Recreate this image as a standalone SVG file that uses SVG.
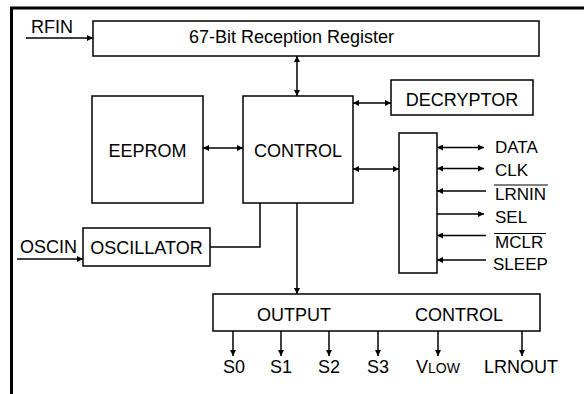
<svg xmlns="http://www.w3.org/2000/svg" width="584" height="394" viewBox="0 0 584 394">
<defs>
<style>
.box{fill:#fff;stroke:#000;stroke-width:1.5}
.ln{fill:none;stroke:#000;stroke-width:1.5}
.t{font-family:"Liberation Sans",Arial,sans-serif;font-size:18px;fill:#000}
.p{font-size:17px}
.c{text-anchor:middle}
</style>
<marker id="ah" viewBox="0 0 10 10" refX="10" refY="5" markerWidth="8" markerHeight="6" markerUnits="userSpaceOnUse" orient="auto-start-reverse">
<path d="M0,0 L10,5 L0,10 z" fill="#000"/>
</marker>
</defs>
<rect width="584" height="394" fill="#fff"/>
<path d="M11.5,394 V8 H584" fill="none" stroke="#000" stroke-width="3"/>

<g id="connectors">
<line class="ln" x1="26" y1="38" x2="93" y2="38" marker-end="url(#ah)"/>
<line class="ln" x1="297" y1="56" x2="297" y2="96" marker-start="url(#ah)" marker-end="url(#ah)"/>
<line class="ln" x1="203" y1="148" x2="243" y2="148" marker-start="url(#ah)" marker-end="url(#ah)"/>
<line class="ln" x1="353" y1="103" x2="391" y2="103" marker-start="url(#ah)" marker-end="url(#ah)"/>
<line class="ln" x1="353" y1="169" x2="399" y2="169" marker-start="url(#ah)" marker-end="url(#ah)"/>
<line class="ln" x1="437" y1="147.5" x2="484" y2="147.5" marker-start="url(#ah)" marker-end="url(#ah)"/>
<line class="ln" x1="437" y1="168.5" x2="484" y2="168.5" marker-start="url(#ah)" marker-end="url(#ah)"/>
<line class="ln" x1="486" y1="191" x2="437" y2="191" marker-end="url(#ah)"/>
<line class="ln" x1="436" y1="214" x2="484" y2="214" marker-end="url(#ah)"/>
<line class="ln" x1="486" y1="235.5" x2="437" y2="235.5" marker-end="url(#ah)"/>
<line class="ln" x1="486" y1="260" x2="437" y2="260" marker-end="url(#ah)"/>
<line class="ln" x1="17" y1="259" x2="83" y2="259" marker-end="url(#ah)"/>
<path class="ln" d="M210,247 H260 V203"/>
<line class="ln" x1="297" y1="203" x2="297" y2="294" marker-end="url(#ah)"/>
<line class="ln" x1="233" y1="331" x2="233" y2="356" marker-end="url(#ah)"/>
<line class="ln" x1="281" y1="331" x2="281" y2="356" marker-end="url(#ah)"/>
<line class="ln" x1="329" y1="331" x2="329" y2="356" marker-end="url(#ah)"/>
<line class="ln" x1="378" y1="331" x2="378" y2="356" marker-end="url(#ah)"/>
<line class="ln" x1="438" y1="331" x2="438" y2="356" marker-end="url(#ah)"/>
<line class="ln" x1="522" y1="331" x2="522" y2="356" marker-end="url(#ah)"/>
</g>

<g id="register">
<rect class="box" x="93" y="21" width="446" height="35"/>
<text class="t" x="189" y="43">67-Bit Reception Register</text>
</g>
<g id="eeprom">
<rect class="box" x="92" y="96" width="111" height="107"/>
<text class="t c" x="147.5" y="157">EEPROM</text>
</g>
<g id="control">
<rect class="box" x="243" y="96" width="110" height="107"/>
<text class="t c" x="298" y="157">CONTROL</text>
</g>
<g id="decryptor">
<rect class="box" x="391" y="80" width="142" height="35"/>
<text class="t c" x="462" y="106">DECRYPTOR</text>
</g>
<g id="io">
<rect class="box" x="399" y="133" width="38" height="140"/>
</g>
<g id="oscillator">
<rect class="box" x="83" y="228" width="127" height="38"/>
<text class="t c" x="146.5" y="254">OSCILLATOR</text>
</g>
<g id="output-control">
<rect class="box" x="213" y="294" width="327" height="37"/>
<text class="t" x="257" y="321">OUTPUT</text>
<text class="t" x="415" y="321">CONTROL</text>
</g>

<g id="labels">
<text class="t" x="31" y="33">RFIN</text>
<text class="t" x="20" y="253">OSCIN</text>
<text class="t p" x="495" y="153">DATA</text>
<text class="t p" x="495" y="176">CLK</text>
<text class="t p" x="495" y="200">LRNIN</text>
<line x1="494" y1="185" x2="548" y2="185" stroke="#000" stroke-width="1.2"/>
<text class="t p" x="495" y="223">SEL</text>
<text class="t p" x="495" y="248">MCLR</text>
<line x1="494" y1="233.5" x2="546" y2="233.5" stroke="#000" stroke-width="1.2"/>
<text class="t p" x="493" y="270">SLEEP</text>
<text class="t c" x="234" y="373">S0</text>
<text class="t c" x="281" y="373">S1</text>
<text class="t c" x="329" y="373">S2</text>
<text class="t c" x="378" y="373">S3</text>
<text class="t c" x="438" y="373">V<tspan font-size="14">LOW</tspan></text>
<text class="t c" x="521" y="373">LRNOUT</text>
</g>
</svg>
